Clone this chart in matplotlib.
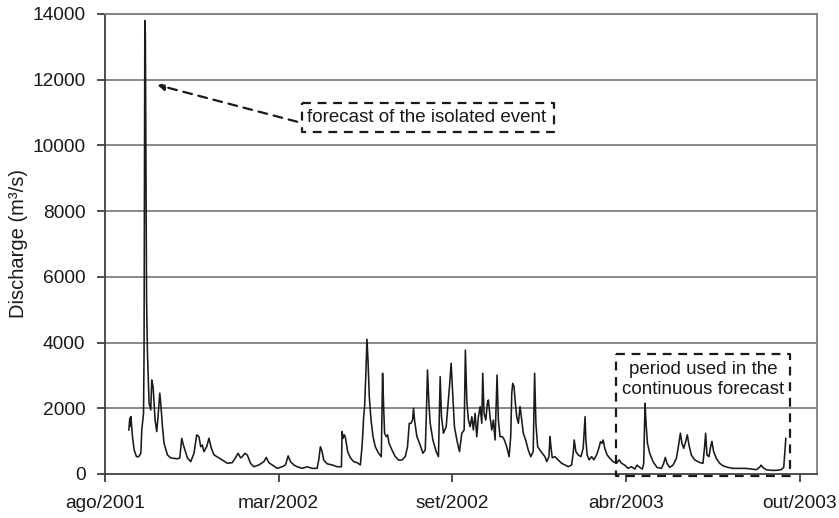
import matplotlib
matplotlib.use("Agg")
import matplotlib.pyplot as plt

plt.rcParams['font.family'] = ['Liberation Sans', 'DejaVu Sans']

# Day index (days since the first axis tick) and daily discharge (m3/s)
days = [27.6, 28.7, 29.3, 29.9, 31.8, 33.7, 36.4, 39.0, 41.4, 42.5, 44.5, 45.1,
        46.0, 46.6, 47.2, 48.0, 49.0, 50.9, 52.8, 54.0, 55.5, 56.6, 57.8, 59.7,
        61.2, 63.2, 64.3, 66.3, 68.1, 72.0, 75.8, 83.5, 86.2, 88.5, 90.4, 95.0,
        98.8, 102.6, 105.7, 108.3, 110.3, 112.2, 114.0, 117.2, 119.8, 122.6, 125.6,
        131.3, 135.2, 141.0, 146.7, 150.5, 153.4, 156.2, 158.2, 161.2, 163.9, 167.7,
        171.5, 177.3, 183.0, 185.8, 188.7, 192.6, 198.4, 204.1, 207.9, 211.0, 213.7,
        217.5, 221.4, 227.1, 232.9, 238.6, 244.3, 246.2, 248.1, 250.1, 251.9, 255.8,
        261.6, 267.3, 272.3, 273.1, 274.2, 275.7, 276.9, 279.5, 282.6, 286.4, 290.3,
        294.1, 296.0, 297.2, 297.9, 299.0, 300.6, 301.7, 302.9, 304.4, 306.4, 308.7,
        311.3, 315.1, 318.2, 319.7, 320.9, 322.0, 324.0, 325.5, 327.1, 330.5, 334.3,
        338.1, 342.0, 345.8, 348.4, 350.4, 352.3, 354.2, 355.3, 356.5, 359.2, 363.0,
        366.1, 368.8, 369.9, 371.4, 373.0, 374.5, 377.6, 381.4, 384.0, 386.0, 387.5,
        389.8, 392.9, 395.5, 396.7, 398.6, 400.6, 402.4, 405.2, 408.2, 410.9, 413.6,
        415.0, 416.7, 418.5, 420.5, 422.4, 424.2, 426.2, 428.1, 430.0, 432.0, 433.9,
        435.0, 436.5, 438.5, 440.3, 441.5, 443.4, 445.4, 447.2, 449.2, 451.5, 453.0,
        454.9, 457.6, 459.9, 462.6, 465.3, 467.2, 468.4, 469.5, 471.0, 472.2, 474.1,
        476.0, 477.9, 479.9, 481.7, 484.4, 487.4, 490.2, 493.1, 494.7, 496.2, 498.2,
        500.8, 503.5, 506.6, 508.6, 511.2, 512.4, 513.5, 515.0, 518.1, 521.9, 525.8,
        529.6, 533.4, 537.3, 539.1, 540.3, 542.2, 544.9, 548.0, 550.6, 551.4, 552.8,
        553.7, 555.2, 557.5, 560.3, 562.9, 566.0, 568.6, 570.6, 572.4, 573.6, 575.5,
        578.2, 581.3, 585.1, 589.0, 592.0, 594.7, 598.5, 602.3, 606.2, 610.0, 612.6,
        615.7, 618.8, 620.3, 621.8, 623.0, 624.6, 627.2, 631.0, 635.6, 640.7, 643.3,
        645.2, 647.1, 650.2, 654.0, 657.9, 660.5, 662.5, 664.3, 666.3, 668.6, 670.5,
        672.4, 675.1, 678.9, 684.7, 688.5, 690.4, 691.6, 693.1, 695.4, 697.7, 698.8,
        700.8, 703.9, 707.7, 711.5, 717.2, 723.0, 730.6, 738.3, 744.0, 749.8, 753.6,
        755.5, 757.4, 761.3, 767.0, 772.8, 778.5, 781.5, 782.7, 783.9]

discharge = [1340, 1700, 1450, 1750, 1135, 730, 527, 527, 630, 1340, 1850, 3680,
             13800, 13400, 9960, 5300, 3680, 2160, 1950, 2860, 2660, 2160, 1640, 1290,
             1745, 2460, 2160, 1440, 940, 580, 490, 460, 490, 1085, 880, 490,
             375, 630, 1190, 1135, 830, 880, 680, 830, 1085, 780, 580,
             490, 425, 325, 345, 500, 630, 490, 527, 630, 580, 325,
             220, 275, 375, 505, 345, 275, 170, 220, 275, 550, 375,
             275, 220, 170, 220, 170, 170, 425, 830, 680, 425, 310,
             275, 220, 220, 1290, 1085, 1190, 1110, 680, 490, 375, 345,
             275, 830, 1340, 1745, 2050, 3165, 4100, 3470, 2350, 1640, 1135,
             830, 630, 527, 3065, 2050, 1240, 1135, 1190, 935, 730, 527,
             425, 425, 527, 830, 1540, 1540, 1640, 2000, 1640, 1135, 880,
             630, 730, 1640, 3165, 2150, 1540, 1035, 680, 527, 2960, 1745,
             1240, 1440, 2250, 2660, 3370, 2350, 1440, 1035, 680, 1240, 1340,
             3770, 2200, 1640, 1440, 1745, 1340, 1845, 1135, 1745, 2050, 1540,
             3065, 1845, 1640, 2150, 2250, 1745, 1340, 1640, 1035, 3010, 1640,
             1135, 1135, 1035, 830, 527, 1135, 2455, 2760, 2660, 2250, 1745,
             1540, 2050, 1640, 1240, 1035, 730, 527, 680, 3065, 1540, 830,
             730, 630, 527, 375, 527, 1135, 830, 490, 527, 425, 325,
             275, 220, 275, 630, 1035, 680, 580, 527, 780, 1135, 1745,
             1035, 580, 430, 527, 430, 580, 780, 985, 935, 1035, 780,
             580, 475, 375, 325, 430, 325, 270, 170, 220, 150, 270,
             200, 150, 325, 2150, 1540, 935, 630, 375, 200, 170, 325,
             505, 325, 200, 270, 475, 880, 1240, 935, 780, 985, 1190,
             880, 580, 430, 350, 325, 830, 1240, 580, 527, 880, 985,
             680, 475, 325, 250, 200, 170, 170, 170, 150, 130, 200,
             270, 200, 130, 110, 110, 130, 200, 630, 1085]

tick_days = [0, 200, 400, 600, 800]
tick_labels = ['ago/2001', 'mar/2002', 'set/2002', 'abr/2003', 'out/2003']
y_ticks = [0, 2000, 4000, 6000, 8000, 10000, 12000, 14000]

fig = plt.figure(figsize=(8.39, 5.18), dpi=100)
ax = fig.add_axes([0.125, 0.085, 0.849, 0.888])

grid_col = '#7f7f7f'
for yv in y_ticks[1:]:
    ax.axhline(yv, color=grid_col, lw=1.3, zorder=1)

ax.plot(days, discharge, color='#1a1a1a', lw=1.15, zorder=3)

ax.set_xlim(0, 820)
ax.set_ylim(0, 14000)
ax.set_xticks(tick_days)
ax.set_xticklabels(tick_labels)
ax.set_yticks(y_ticks)
ax.set_yticklabels([str(v) for v in y_ticks])
ax.tick_params(axis='both', direction='out', length=6, width=1.3, color='#404040',
               labelsize=13.8, labelcolor='#1a1a1a')
ax.tick_params(axis='y', pad=8)
ax.tick_params(axis='x', pad=9)
for side, sp in ax.spines.items():
    sp.set_color('#404040' if side in ('left', 'bottom') else grid_col)
    sp.set_linewidth(1.3)

ax.set_ylabel('Discharge (m³/s)', fontsize=14.5, color='#1a1a1a', labelpad=3)

# Annotation: isolated event
ax.text(233, 10850, 'forecast of the isolated event', fontsize=13.5, va='center',
        ha='left', color='#1a1a1a', zorder=5)
ax.plot([227.5, 517, 517, 227.5, 227.5], [11290, 11290, 10407, 10407, 11290],
        color='#1a1a1a', lw=1.6, ls=(0, (4, 3)), zorder=5)
ax.annotate('', xy=(60.5, 11840), xytext=(221.4, 10720),
            arrowprops=dict(arrowstyle='-|>', color='#1a1a1a', lw=1.6,
                            linestyle=(0, (4, 3)), mutation_scale=10,
                            shrinkA=0, shrinkB=0), zorder=5)

# Annotation: continuous forecast period
ax.plot([588, 789, 789, 588, 588], [3642, 3642, -60, -60, 3642],
        color='#1a1a1a', lw=1.6, ls=(0, (4, 3)), zorder=5, clip_on=False)
ax.text(689, 2880, 'period used in the\ncontinuous forecast', fontsize=13.5,
        ha='center', va='center', color='#1a1a1a', linespacing=1.25, zorder=5)

fig.savefig('out.png', dpi=100)
